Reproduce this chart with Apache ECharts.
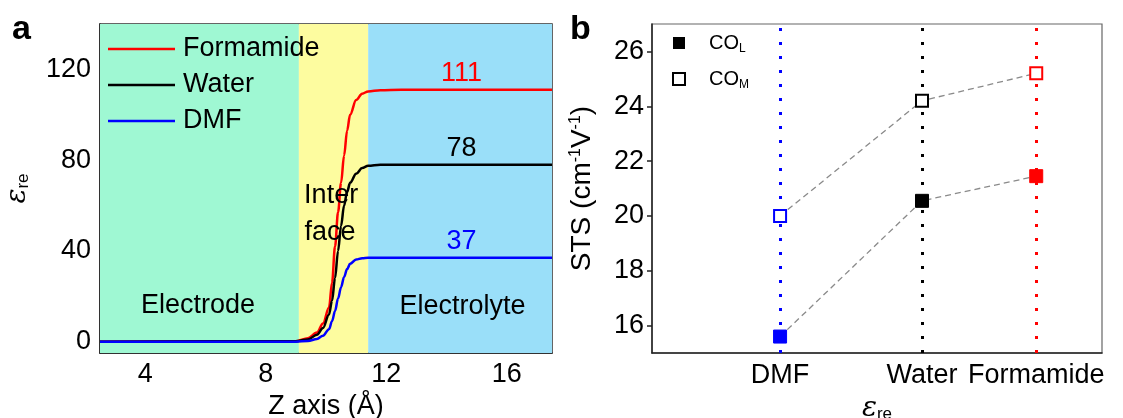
<!DOCTYPE html>
<html><head><meta charset="utf-8">
<script src="https://cdn.jsdelivr.net/npm/echarts@6/dist/echarts.min.js"></script>
<style>html,body{margin:0;padding:0;background:#fff}#c{width:1123px;height:418px}</style>
</head><body><div id="c"></div>
<script>
// ---- Panel a data ----
const zAxis     = [2.5, 9.0, 9.4, 9.7, 9.9, 10.1, 10.2, 10.3, 10.4, 10.5, 10.6, 10.7, 10.8, 11.0, 11.2, 11.4, 11.8, 12.5, 17.5];
const formamide = [0, 0.2, 1.5, 4, 8, 15, 26, 42, 57, 70, 82, 93, 100, 106.5, 109.3, 110.3, 110.8, 111, 111];
const water     = [0, 0.2, 1, 3, 6, 12, 18, 28, 40, 51, 60, 66, 70, 74, 76.5, 77.5, 78, 78, 78];
const dmf       = [0, 0, 0.3, 1.2, 2.6, 5.5, 9, 13.5, 19, 24, 28.5, 32, 34.3, 36.2, 36.8, 37, 37, 37, 37];
const seriesNamesA = ['Formamide', 'Water', 'DMF'];
const plateaus = [111, 78, 37];
const regionBounds = [[2.5, 9.1], [9.1, 11.4], [11.4, 17.5]];
const xTicksA = [4, 8, 12, 16];
const xMinorA = [6, 10, 14];
const yTicksA = [0, 40, 80, 120];
const yMinorA = [20, 60, 100];
// ---- Panel b data ----
const solvents = ['DMF', 'Water', 'Formamide'];
const epsilonRe = [37, 78, 111];
const coL = [15.6, 20.55, 21.45];
const coM = [20.0, 24.2, 25.2];
const yTicksB = [16, 18, 20, 22, 24, 26];

const FONT = 'Liberation Sans, Arial, sans-serif';
const FS = 27;
const colorsA = ['#ff0000', '#000000', '#0000ff'];
const solventColors = ['#0000ff', '#000000', '#ff0000'];
const regionColors = ['#9ff8d3', '#fdfc9f', '#9adff9'];
const curves = [formamide, water, dmf];

const chart = echarts.init(document.getElementById('c'), null, {renderer: 'canvas'});

const seriesA = curves.map((vals, i) => {
  const s = {
    name: seriesNamesA[i], type: 'line', xAxisIndex: 0, yAxisIndex: 0,
    data: zAxis.map((z, k) => [z, vals[k]]),
    smooth: 0.35, smoothMonotone: 'x', symbol: 'none',
    lineStyle: {color: colorsA[i], width: 2.5}, itemStyle: {color: colorsA[i]},
    z: 3 + i,
    markPoint: {
      symbol: 'circle', symbolSize: 0,
      label: {show: true, position: 'top', distance: 3, fontFamily: FONT, fontSize: FS, color: colorsA[i], formatter: String(plateaus[i])},
      data: [{coord: [14.5, plateaus[i]]}]
    }
  };
  if (i === 0) {
    s.markArea = {
      silent: true,
      data: regionBounds.map((b, j) => [{xAxis: b[0], itemStyle: {color: regionColors[j]}}, {xAxis: b[1]}])
    };
  }
  if (i === 2) {
    s.markPoint.data.push(
      {coord: [5.75, 16.0], label: {position: 'inside', color: '#000', formatter: 'Electrode'}},
      {coord: [14.53, 15.5], label: {position: 'inside', color: '#000', formatter: 'Electrolyte'}},
      {coord: [10.17, 64.2], label: {position: 'inside', color: '#000', formatter: 'Inter'}},
      {coord: [10.13, 48.0], label: {position: 'inside', color: '#000', formatter: 'face'}}
    );
  }
  return s;
});

const seriesB = [
  {
    name: 'CO_L', type: 'line', xAxisIndex: 2, yAxisIndex: 2,
    data: coL.map((v, i) => ({value: [epsilonRe[i], v], itemStyle: {color: solventColors[i], borderColor: solventColors[i]}})),
    symbol: 'rect', symbolSize: 13, showAllSymbol: true,
    itemStyle: {color: '#000'},
    lineStyle: {color: '#8a8a8a', width: 1.3, type: [6, 4]},
    z: 5,
    markLine: {
      silent: true, symbol: 'none', label: {show: false}, z: 1,
      data: epsilonRe.map((x, i) => ({xAxis: x, lineStyle: {color: solventColors[i], type: [3, 11], width: 3, cap: 'butt'}}))
    }
  },
  {
    name: 'CO_M', type: 'line', xAxisIndex: 2, yAxisIndex: 2,
    data: coM.map((v, i) => ({value: [epsilonRe[i], v], itemStyle: {color: '#fff', borderColor: solventColors[i], borderWidth: 2}})),
    symbol: 'rect', symbolSize: 12, showAllSymbol: true,
    itemStyle: {color: '#fff', borderColor: '#000', borderWidth: 2},
    lineStyle: {color: '#8a8a8a', width: 1.3, type: [6, 4]},
    z: 5
  }
];

const axisLineStyle = {color: '#222', width: 1.5};

const option = {
  animation: false,
  backgroundColor: '#fff',
  textStyle: {fontFamily: FONT},
  grid: [
    {left: 100, top: 24, width: 452, height: 329, show: true, borderColor: '#333', borderWidth: 1.5, backgroundColor: 'transparent', containLabel: false, outerBoundsMode: 'none'},
    {left: 652, top: 24, width: 450, height: 329, show: true, borderColor: '#666', borderWidth: 1.2, backgroundColor: 'transparent', containLabel: false, outerBoundsMode: 'none'}
  ],
  legend: [
    {
      data: seriesNamesA, orient: 'vertical', left: 108, top: 35, padding: 0, icon: 'rect', itemWidth: 67, itemHeight: 2.5, itemGap: 8,
      textStyle: {fontFamily: FONT, fontSize: FS, color: '#000', lineHeight: 28, padding: [0, 0, 0, 3]}, selectedMode: false
    },
    {
      data: ['CO_L', 'CO_M'], orient: 'vertical', left: 672, top: 30, padding: 0, icon: 'rect', itemWidth: 12, itemHeight: 12, itemGap: 10,
      selectedMode: false,
      formatter: n => n === 'CO_L' ? 'CO{s|L}' : 'CO{s|M}',
      textStyle: {fontFamily: FONT, fontSize: 20, color: '#000', lineHeight: 26, padding: [0, 0, 0, 19],
        rich: {s: {fontSize: 12, fontFamily: FONT, color: '#000', padding: [12, 0, 0, 0]}}}
    }
  ],
  xAxis: [
    {
      type: 'value', gridIndex: 0, min: 2.5, max: 17.5, position: 'bottom',
      axisLine: {show: true, onZero: false, lineStyle: axisLineStyle},
      axisTick: {show: true, inside: true, length: 7, customValues: xTicksA, lineStyle: {color: '#222', width: 1.5}},
      axisLabel: {customValues: xTicksA, fontSize: FS, color: '#000', margin: 8, fontFamily: FONT},
      splitLine: {show: false},
      name: 'Z axis (Å)', nameLocation: 'middle', nameGap: 35,
      nameTextStyle: {fontSize: FS, color: '#000', fontFamily: FONT}
    },
    {
      type: 'value', gridIndex: 0, min: 2.5, max: 17.5, position: 'bottom',
      axisLine: {show: false, onZero: false},
      axisTick: {show: true, inside: true, length: 4, customValues: xMinorA, lineStyle: {color: '#222', width: 1.5}},
      axisLabel: {show: false}, splitLine: {show: false}
    },
    {
      type: 'value', gridIndex: 1, min: 0, max: 130, position: 'bottom',
      axisLine: {show: true, onZero: false, lineStyle: axisLineStyle},
      axisTick: {show: false},
      axisLabel: {customValues: epsilonRe, formatter: v => solvents[epsilonRe.indexOf(v)] || '', fontSize: FS, color: '#000', margin: 9, fontFamily: FONT},
      splitLine: {show: false},
      name: '{e|ε}{r|re}', nameLocation: 'middle', nameGap: 42,
      nameTextStyle: {fontFamily: FONT, color: '#000', rich: {
        e: {fontSize: 28, fontStyle: 'italic', fontFamily: 'DejaVu Serif, serif', color: '#000'},
        r: {fontSize: 17, fontFamily: FONT, color: '#000', padding: [10, 0, 0, 0]}
      }}
    }
  ],
  yAxis: [
    {
      type: 'value', gridIndex: 0, min: -5, max: 140,
      axisLine: {show: true, onZero: false, lineStyle: axisLineStyle},
      axisTick: {show: true, inside: true, length: 7, customValues: yTicksA, lineStyle: {color: '#222', width: 1.5}},
      axisLabel: {customValues: yTicksA, fontSize: FS, color: '#000', margin: 9, fontFamily: FONT},
      splitLine: {show: false},
      name: '{e|ε}{r|re}', nameLocation: 'middle', nameGap: 68,
      nameTextStyle: {fontFamily: FONT, color: '#000', rich: {
        e: {fontSize: 28, fontStyle: 'italic', fontFamily: 'DejaVu Serif, serif', color: '#000'},
        r: {fontSize: 17, fontFamily: FONT, color: '#000', padding: [10, 0, 0, 0]}
      }}
    },
    {
      type: 'value', gridIndex: 0, min: -5, max: 140,
      axisLine: {show: false, onZero: false},
      axisTick: {show: true, inside: true, length: 4, customValues: yMinorA, lineStyle: {color: '#222', width: 1.5}},
      axisLabel: {show: false}, splitLine: {show: false}
    },
    {
      type: 'value', gridIndex: 1, min: 15, max: 27,
      axisLine: {show: true, onZero: false, lineStyle: axisLineStyle},
      axisTick: {show: true, inside: false, length: 5, customValues: yTicksB, lineStyle: {color: '#222', width: 1.5}},
      axisLabel: {customValues: yTicksB, fontSize: FS, color: '#000', margin: 8, fontFamily: FONT},
      splitLine: {show: false},
      name: 'STS (cm{s|-1}V{s|-1})', nameLocation: 'middle', nameGap: 56,
      nameTextStyle: {fontSize: 28, color: '#000', fontFamily: FONT,
        rich: {s: {fontSize: 16, fontFamily: FONT, color: '#000', padding: [0, 0, 12, 0]}}}
    }
  ],
  graphic: [
    {type: 'text', left: 12, top: 13, style: {text: 'a', fontSize: 34, fontWeight: 'bold', fontFamily: FONT, fill: '#000'}},
    {type: 'text', left: 570, top: 13, style: {text: 'b', fontSize: 34, fontWeight: 'bold', fontFamily: FONT, fill: '#000'}}
  ],
  series: seriesA.concat(seriesB)
};
chart.setOption(option);
</script>
</body></html>
